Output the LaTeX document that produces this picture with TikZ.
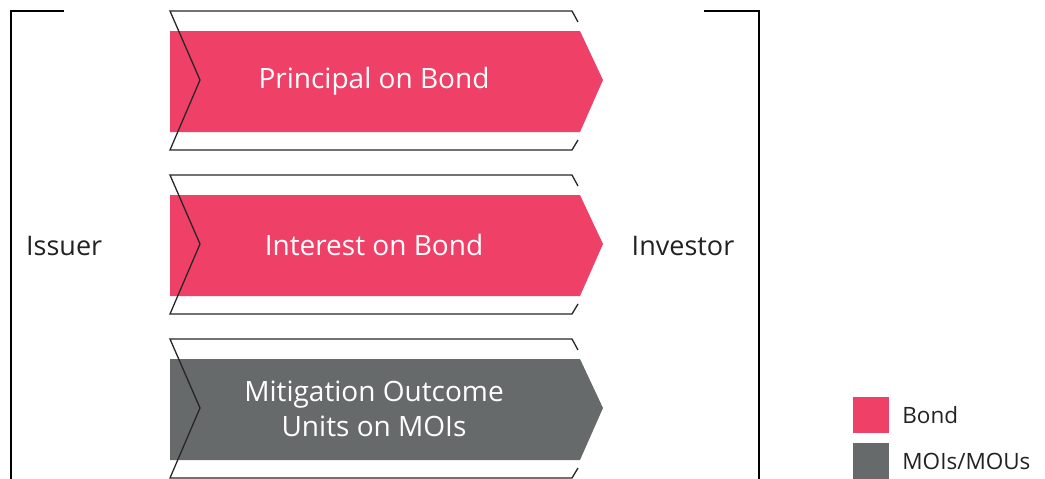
\documentclass[tikz,border=0pt]{standalone}
\usepackage{fontspec}
\setmainfont{Open Sans}
\usetikzlibrary{positioning}
\definecolor{mpink}{RGB}{239,65,104}
\definecolor{mgrey}{RGB}{103,106,106}
\definecolor{mtext}{RGB}{34,34,34}
\tikzset{outl/.style = {draw=black!85, line width=1.3, line join=miter}}
\tikzset{bracket/.style = {draw=black, line width=2.2}}
\tikzset{flow/.style = {text=white, font=\fontsize{28}{35}\selectfont, align=center}}
\tikzset{side/.style = {text=mtext, font=\fontsize{27}{30}\selectfont, inner sep=0}}
\tikzset{swatch/.style = {minimum size=36, inner sep=0}}
\tikzset{key/.style = {text=mtext, font=\fontsize{22.5}{26}\selectfont, inner sep=0, anchor=west}}

\begin{document}
\begin{tikzpicture}[x=1pt, y=-1pt]
      \useasboundingbox (0, 0) rectangle (1045, 479);
      \draw [bracket] (64, 11) -- (11, 11) -- (11, 479);
      \draw [bracket] (704, 11) -- (759, 11) -- (759, 479);
      \foreach \y/\c/\t/\n in {0/mpink/{Principal on Bond}/principal,
                               164/mpink/{Interest on Bond}/interest,
                               328/mgrey/{Mitigation Outcome\\Units on MOIs}/mou} {
        \begin{scope}[shift={(0, \y)}]
          \fill [\c] (170, 31) -- (580, 31) -- (603, 80) -- (580, 132) -- (170, 132) -- cycle;
          \draw [outl] (578, 22) -- (572, 11) -- (170, 11) -- (200, 80) -- (170, 150) -- (572, 150) -- (578, 140);
          \node [flow] (\n) at (374, 81) {\t};
        \end{scope}
      }
      \node [side, anchor=west] (issuer) at (26, 246) {Issuer};
      \node [side] (investor) at (683, 246) {Investor};
      \node [swatch, fill=mpink] (bondkey) at (871, 415) {};
      \node [swatch, fill=mgrey] (moukey) at (871, 461) {};
      \node [key, right=13 of bondkey] (bondtext) {Bond};
      \node [key, right=13 of moukey] (moutext) {MOIs/MOUs};

    \end{tikzpicture}
\end{document}
